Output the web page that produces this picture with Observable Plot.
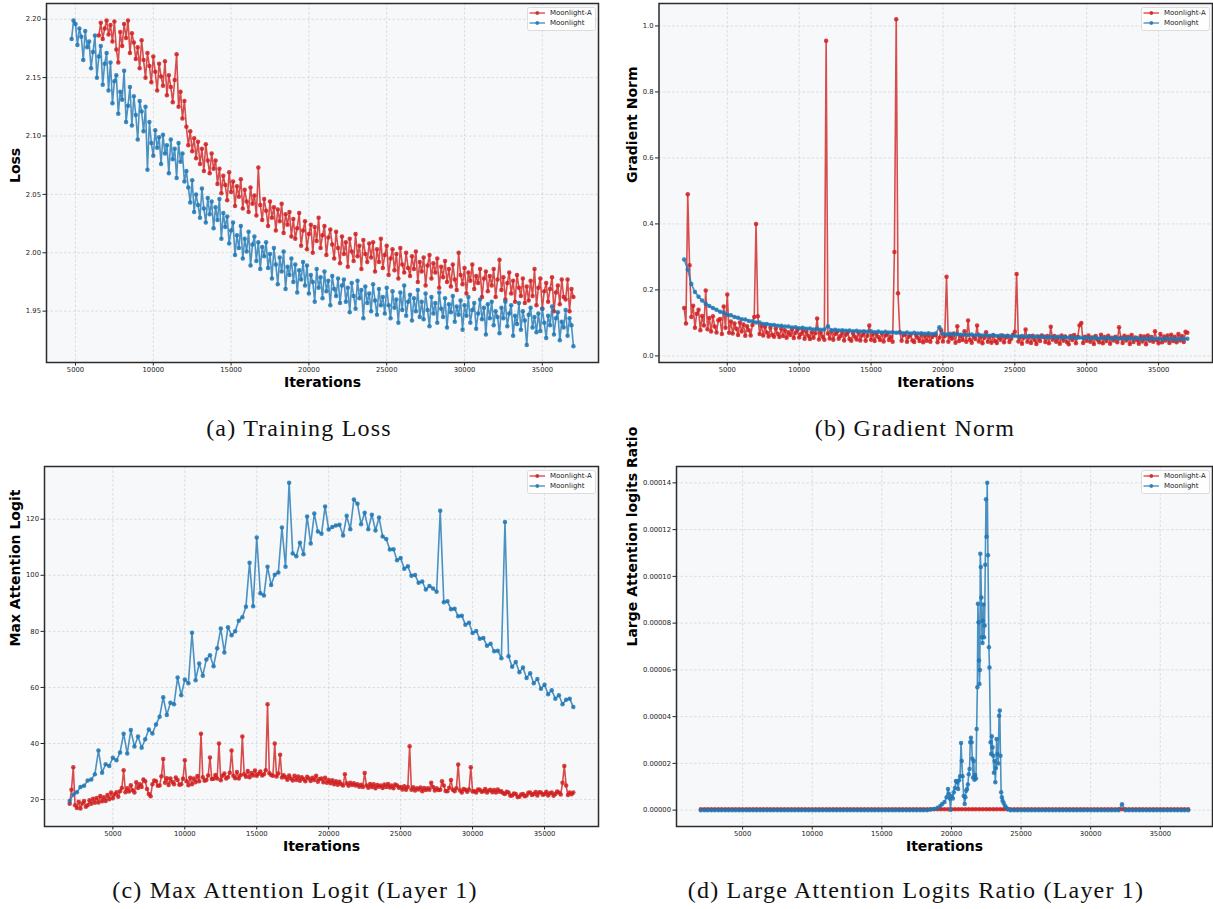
<!DOCTYPE html>
<html><head><meta charset="utf-8">
<script src="https://cdn.jsdelivr.net/npm/d3@7"></script>
<script src="https://cdn.jsdelivr.net/npm/@observablehq/plot@0.6"></script>
<style>
body{margin:0;background:#fff;width:1213px;height:909px;position:relative;overflow:hidden;font-family:"DejaVu Sans",sans-serif;}
.abs{position:absolute;}
.cap{position:absolute;font-family:"Liberation Serif",serif;font-size:24px;letter-spacing:1.2px;color:#111;transform:translate(-50%,-50%);white-space:nowrap;}
</style></head><body>
<script>
// ---------- shared ----------
const seriesNames = ["Moonlight-A", "Moonlight"];
const seriesColors = ["#d02020", "#1f77b4"];
const xTicks = [5000, 10000, 15000, 20000, 25000, 30000, 35000];
const gridStart = 2000;            // panels b, c, d
const lossMoonlightStart = 4750;   // panel a
const lossMoonlightAStart = 6500;  // panel a

// ---------- (a) Training Loss (every 125 iterations) ----------
const lossYTicks = [1.95, 2.00, 2.05, 2.10, 2.15, 2.20];
const lossMoonlight = [
2.183,2.199,2.196,2.178,2.192,2.185,2.165,2.190,2.176,2.181,2.158,2.172,2.186,2.150,2.168,2.177,2.144,2.162,2.171,2.139,
2.163,2.128,2.147,2.152,2.119,2.138,2.131,2.156,2.112,2.126,2.142,2.109,2.134,2.118,2.097,2.130,2.121,2.104,2.125,2.071,
2.112,2.094,2.083,2.105,2.090,2.099,2.076,2.101,2.085,2.092,2.068,2.097,2.080,2.089,2.064,2.094,2.078,2.085,2.061,2.070,
2.056,2.043,2.062,2.035,2.050,2.041,2.030,2.055,2.038,2.026,2.047,2.033,2.044,2.021,2.039,2.028,2.046,2.012,2.034,2.022,
2.031,2.008,2.019,2.026,1.998,2.015,2.004,2.023,1.995,2.012,2.001,2.018,1.989,2.007,2.014,1.993,2.009,1.986,2.005,1.997,
2.009,1.987,1.999,1.978,2.004,1.990,1.973,1.996,1.984,2.001,1.969,1.988,1.981,1.995,1.975,1.990,1.966,1.985,1.977,1.992,
1.972,1.989,1.965,1.981,1.975,1.958,1.986,1.970,1.979,1.961,1.984,1.967,1.976,1.955,1.980,1.969,1.963,1.978,1.957,1.972,
1.977,1.958,1.970,1.949,1.974,1.963,1.952,1.976,1.961,1.968,1.944,1.971,1.957,1.965,1.950,1.973,1.959,1.947,1.969,1.955,
1.962,1.948,1.970,1.955,1.944,1.967,1.953,1.960,1.940,1.966,1.951,1.972,1.946,1.958,1.964,1.942,1.961,1.950,1.968,1.945,
1.958,1.943,1.965,1.951,1.937,1.962,1.948,1.957,1.940,1.966,1.952,1.945,1.961,1.936,1.956,1.949,1.963,1.941,1.954,1.947,
1.959,1.934,1.955,1.946,1.962,1.940,1.951,1.957,1.935,1.948,1.960,1.943,1.953,1.930,1.956,1.944,1.958,1.938,1.950,1.945,
1.931,1.953,1.944,1.958,1.937,1.948,1.955,1.929,1.946,1.939,1.957,1.934,1.950,1.942,1.921,1.947,1.953,1.936,1.945,1.932,
1.948,1.933,1.952,1.940,1.927,1.946,1.938,1.954,1.930,1.944,1.949,1.925,1.941,1.936,1.951,1.929,1.944,1.938,1.920];
const lossMoonlightA = [
2.186,2.197,2.183,2.192,2.199,2.187,2.195,2.181,2.198,2.174,2.163,2.189,2.177,2.196,2.184,2.199,2.171,2.188,2.180,2.166,
2.176,2.158,2.182,2.165,2.150,2.171,2.160,2.146,2.168,2.155,2.139,2.162,2.151,2.143,2.164,2.135,2.152,2.142,2.129,2.148,
2.170,2.125,2.138,2.115,2.130,2.108,2.092,2.104,2.087,2.098,2.081,2.095,2.076,2.089,2.070,2.093,2.079,2.068,2.085,2.072,
2.079,2.059,2.072,2.051,2.066,2.058,2.045,2.069,2.052,2.061,2.040,2.057,2.048,2.063,2.038,2.054,2.044,2.035,2.056,2.042,
2.049,2.032,2.073,2.041,2.028,2.046,2.036,2.023,2.044,2.030,2.039,2.019,2.037,2.027,2.042,2.017,2.033,2.024,2.035,2.014,
2.029,2.012,2.021,2.034,2.006,2.019,2.027,2.003,2.016,2.024,2.000,2.022,2.010,2.030,2.004,2.015,2.023,1.998,2.013,2.020,
2.007,1.995,2.018,2.004,1.991,2.014,1.999,2.009,1.988,2.012,2.001,1.993,2.016,1.997,2.006,1.986,2.011,1.999,1.992,2.008,
1.996,2.009,1.984,2.003,1.992,2.012,1.987,1.998,2.006,1.981,1.995,2.003,1.985,1.999,1.978,2.004,1.990,1.983,2.000,1.987,
1.980,1.997,1.986,2.001,1.975,1.992,1.984,1.996,1.972,1.989,1.998,1.978,1.991,1.983,1.995,1.970,1.988,1.979,1.993,1.975,
1.986,1.971,1.990,1.977,1.968,2.000,1.981,1.973,1.987,1.965,1.983,1.976,1.990,1.969,1.980,1.974,1.986,1.962,1.978,1.984,
1.967,1.980,1.972,1.986,1.962,1.977,1.994,1.968,1.979,1.960,1.974,1.983,1.965,1.976,1.958,1.981,1.970,1.963,1.978,1.957,
1.971,1.959,1.976,1.963,1.986,1.955,1.970,1.978,1.952,1.967,1.974,1.958,1.969,1.979,1.950,1.966,1.972,1.956,1.977,1.962,
1.960,1.977,1.950,1.969,1.962];

// ---------- (b) Gradient Norm ----------
const gradYTicks = [0.0, 0.2, 0.4, 0.6, 0.8, 1.0];
const gradMoonlightA = [ // every 125 iterations
0.145,0.098,0.490,0.275,0.118,0.152,0.085,0.128,0.140,0.078,0.121,0.092,0.198,0.081,0.115,0.074,0.120,0.089,0.071,0.108,
0.112,0.066,0.150,0.085,0.186,0.070,0.104,0.068,0.098,0.082,0.063,0.101,0.074,0.095,0.061,0.090,0.078,0.062,0.094,0.118,
0.400,0.120,0.066,0.091,0.062,0.088,0.071,0.059,0.085,0.064,0.058,0.083,0.067,0.057,0.082,0.060,0.078,0.055,0.072,0.063,
0.080,0.054,0.070,0.079,0.056,0.066,0.076,0.052,0.074,0.061,0.051,0.072,0.055,0.069,0.113,0.050,0.071,0.058,0.049,0.955,
0.068,0.053,0.075,0.049,0.066,0.073,0.052,0.060,0.071,0.047,0.064,0.072,0.051,0.046,0.069,0.058,0.050,0.070,0.047,0.062,
0.070,0.046,0.061,0.092,0.049,0.066,0.045,0.068,0.057,0.048,0.069,0.044,0.062,0.067,0.048,0.058,0.043,0.315,1.020,0.190,
0.072,0.046,0.063,0.066,0.043,0.058,0.065,0.047,0.042,0.064,0.055,0.045,0.065,0.041,0.060,0.046,0.063,0.043,0.057,0.064,
0.063,0.041,0.055,0.078,0.044,0.060,0.240,0.043,0.062,0.052,0.068,0.040,0.090,0.045,0.061,0.048,0.075,0.043,0.107,0.049,
0.040,0.060,0.051,0.092,0.044,0.059,0.038,0.055,0.072,0.043,0.058,0.040,0.062,0.045,0.039,0.058,0.049,0.062,0.041,0.056,
0.060,0.042,0.052,0.064,0.073,0.248,0.044,0.058,0.037,0.055,0.080,0.043,0.059,0.039,0.061,0.048,0.036,0.059,0.045,0.062,
0.057,0.042,0.060,0.038,0.088,0.049,0.060,0.043,0.056,0.037,0.062,0.046,0.059,0.042,0.035,0.060,0.048,0.063,0.038,0.057,
0.093,0.100,0.039,0.058,0.046,0.062,0.043,0.056,0.036,0.060,0.049,0.041,0.064,0.038,0.057,0.045,0.061,0.037,0.055,0.047,
0.058,0.041,0.087,0.055,0.039,0.061,0.047,0.058,0.036,0.063,0.042,0.056,0.048,0.037,0.060,0.044,0.059,0.035,0.062,0.046,
0.057,0.043,0.075,0.048,0.038,0.066,0.041,0.059,0.047,0.062,0.039,0.064,0.045,0.058,0.041,0.066,0.047,0.060,0.042,0.073,
0.070];
const gradMoonlight = [ // every 250 iterations
0.292,0.262,0.218,0.194,0.179,0.168,0.158,0.151,0.145,0.140,
0.134,0.131,0.125,0.123,0.118,0.116,0.111,0.110,0.106,0.105,
0.101,0.101,0.097,0.097,0.094,0.094,0.091,0.091,0.089,0.089,
0.086,0.087,0.084,0.085,0.082,0.083,0.080,0.082,0.079,0.080,
0.090,0.078,0.079,0.077,0.078,0.076,0.077,0.075,0.076,0.074,
0.075,0.073,0.075,0.072,0.074,0.071,0.073,0.071,0.072,0.070,
0.071,0.069,0.071,0.068,0.070,0.068,0.069,0.067,0.069,0.066,
0.068,0.087,0.067,0.065,0.067,0.064,0.066,0.064,0.065,0.063,
0.065,0.062,0.064,0.062,0.063,0.061,0.063,0.060,0.062,0.060,
0.061,0.059,0.061,0.058,0.060,0.058,0.060,0.057,0.059,0.057,
0.059,0.056,0.058,0.056,0.058,0.055,0.057,0.055,0.057,0.054,
0.056,0.054,0.056,0.053,0.056,0.053,0.055,0.053,0.055,0.052,
0.055,0.052,0.054,0.052,0.054,0.051,0.054,0.051,0.053,0.051,
0.053,0.051,0.053,0.050,0.053,0.051,0.052,0.050,0.053,0.051,
0.052];

// ---------- (c) Max Attention Logit ----------
const logitYTicks = [20, 40, 60, 80, 100, 120];
const logitMoonlightA = [ // every 125 iterations
18.5,23.5,31.5,18.0,17.0,19.2,16.8,18.6,19.5,17.4,18.0,19.8,18.5,20.3,18.9,20.6,19.0,21.3,19.4,20.8,
19.5,21.6,20.1,22.5,20.5,21.8,22.6,21.0,23.0,24.1,30.5,22.6,24.0,22.9,25.1,23.3,22.5,26.2,24.1,25.5,
24.5,27.2,26.5,23.8,22.0,21.2,25.5,26.8,26.5,24.9,25.0,28.3,34.5,26.0,27.6,25.2,27.5,26.3,25.5,27.9,
27.0,25.3,25.5,27.4,34.0,26.5,25.1,27.8,25.5,27.5,26.2,28.4,26.5,43.5,28.0,26.7,27.0,28.6,35.0,27.3,
27.4,28.8,27.5,40.0,26.9,28.5,29.3,27.5,28.0,29.6,37.5,28.5,27.6,29.8,27.5,28.7,42.5,29.0,28.1,30.2,
28.0,29.5,28.6,30.4,28.5,29.2,30.0,28.6,29.0,30.5,54.0,29.4,28.8,28.5,40.0,28.2,29.3,36.0,27.9,28.7,
28.0,27.1,28.6,27.5,26.8,28.5,27.0,28.2,26.7,28.0,27.3,26.5,28.1,27.5,26.6,27.8,27.0,28.5,26.4,27.3,
27.5,26.2,27.8,26.0,27.0,25.8,26.9,25.5,26.5,25.3,26.4,25.5,25.0,29.0,25.8,24.9,26.0,25.2,25.8,25.0,
25.5,24.6,25.3,24.5,29.5,25.0,24.2,25.6,24.5,25.5,24.0,25.2,24.6,25.0,24.1,25.4,24.5,25.6,24.3,25.0,
24.0,25.4,25.0,24.2,24.5,23.6,24.8,23.5,24.5,39.0,23.5,24.4,23.2,24.0,23.6,24.3,23.0,24.1,23.4,24.0,
23.5,26.0,24.5,23.2,24.0,23.4,23.5,26.5,25.0,23.1,23.0,24.2,27.0,23.5,23.0,24.0,32.5,23.2,22.5,23.8,
23.5,22.8,23.6,31.5,22.9,23.0,22.5,23.6,23.5,22.8,23.0,23.8,22.5,23.2,23.5,22.6,23.4,22.5,23.6,22.8,
23.0,22.3,22.0,22.8,22.5,21.4,21.5,22.2,22.0,20.9,21.0,21.8,22.0,21.2,21.5,22.4,22.5,21.6,22.0,22.7,
21.5,22.6,22.5,21.7,22.0,22.8,21.5,22.3,22.5,21.4,22.0,22.9,22.5,21.8,26.0,32.0,25.0,21.6,22.5,21.9,
22.5];
const logitMoonlight = [ // every 250 iterations
19.5,21.8,22.6,24.5,24.9,26.8,27.2,29.0,37.5,29.6,
32.6,32.0,34.9,34.0,36.8,43.5,36.4,44.8,38.9,42.5,
38.5,41.5,45.0,43.6,46.8,49.5,56.5,50.2,54.5,54.0,
63.5,57.2,62.8,61.5,79.5,62.6,68.5,64.2,70.0,71.5,
67.6,74.0,81.0,72.5,81.5,78.6,80.0,83.8,85.0,88.8,
104.5,89.0,113.5,93.6,92.8,103.0,96.5,100.2,101.0,117.0,
103.0,133.0,107.8,106.8,111.6,107.5,121.0,111.3,122.0,115.6,
114.8,124.5,116.3,117.2,117.8,118.0,114.2,121.2,116.4,127.0,
125.5,118.2,122.3,116.4,121.6,116.0,120.6,113.8,112.9,109.2,
109.3,105.4,106.2,102.3,103.2,99.8,100.1,97.3,97.8,94.9,
96.2,95.3,94.1,123.0,90.4,90.7,87.9,88.1,85.4,85.6,
82.4,83.1,79.4,80.1,77.4,77.6,74.9,75.6,72.9,73.1,
70.4,119.0,71.1,67.4,69.1,65.4,67.1,63.4,65.1,61.5,
63.0,59.5,61.0,57.6,59.0,56.0,57.2,54.0,55.6,56.0,
53.0];

// ---------- (d) Large Attention Logits Ratio ----------
const ratioYTicks = [0, 0.00002, 0.00004, 0.00006, 0.00008, 0.00010, 0.00012, 0.00014];
const ratioMoonlightA = [ // every 250 iterations
0,0,0,0,0,0,0,0,0,0, 0,0,0,0,0,0,0,0,0,0, 0,0,0,0,0,0,0,0,0,0,
0,0,0,0,0,0,0,0,0,0, 0,0,0,0,0,0,0,0,0,0, 0,0,0,0,0,0,0,0,0,0,
0,0,0,0,0,0,0,0,0,0, 0,0,0,0,0,0,0,0,0,0, 0,0,0,0,0,0,0,0,0,0,
0,0,0,0,0,0,0,0,0,0, 0,0,0,0,0,0,0,0,0,0, 0,0,0,0,0,0,0,0,0,0,
0,0,0,0,0,0,0,0,0,0, 0,0,0,0,0,0,0,0,0,0, 0];
const ratioMoonlightBefore = [ // 2000..18250, every 250
0,0,0,0,0,0,0,0,0,0, 0,0,0,0,0,0,0,0,0,0, 0,0,0,0,0,0,0,0,0,0,
0,0,0,0,0,0,0,0,0,0, 0,0,0,0,0,0,0,0,0,0, 0,0,0,0,0,0,0,0,0,0,
0,0,0,0,0,0];
const ratioBurstIters = [
18500,18750,19000,19200,19330,19500,19650,19750,19810,19870,
19930,20000,20100,20170,20250,20320,20400,20480,20550,20620,
20690,20740,20800,20880,20950,21000,21060,21120,21180,21240,
21300,21350,21400,21450,21500,21550,21600,21650,21700,21760,
21810,21860,21900,21940,21980,22010,22040,22070,22110,22150,
22190,22230,22260,22300,22340,22380,22430,22480,22520,22570,
22620,22690,22730,22810,22850,22900,22950,23000,23050,23100,
23150,23200,23240,23300,23350,23420,23470,23520,23570,23620,
23670,23750,23840,23950,24070,24250];
const ratioBurstValues = [
3e-7,5e-7,1.0e-6,1.8e-6,2.6e-6,3.5e-6,5.5e-6,9.0e-6,7.0e-6,5.0e-6,
2e-7,6.0e-6,5.0e-6,7.6e-6,9.5e-6,12.5e-6,12.0e-6,9.0e-6,12.8e-6,14.5e-6,
28.7e-6,21.0e-6,14.5e-6,6.0e-6,2.6e-6,5.5e-6,8.3e-6,9.0e-6,11.0e-6,15.4e-6,
17.6e-6,29.0e-6,31.0e-6,29.0e-6,22.0e-6,14.0e-6,21.0e-6,13.0e-6,15.0e-6,13.5e-6,
34.7e-6,52.6e-6,88.3e-6,80.4e-6,64.0e-6,54.0e-6,60.0e-6,109.7e-6,104.0e-6,91.0e-6,
74.0e-6,71.5e-6,81.0e-6,88.0e-6,74.0e-6,79.0e-6,105.0e-6,133.0e-6,116.9e-6,140.0e-6,
109.0e-6,69.7e-6,61.0e-6,29.0e-6,24.0e-6,31.6e-6,26.9e-6,23.3e-6,16.0e-6,21.0e-6,
11.9e-6,18.0e-6,30.4e-6,24.0e-6,20.0e-6,40.4e-6,42.6e-6,23.3e-6,7.6e-6,5.5e-6,
4.0e-6,3.0e-6,1.9e-6,1.0e-6,4e-7,0];
const ratioMoonlightAfter = [ // 24500..37000, every 250
0,0,0,0,0,0,0,0,0,0, 0,0,0,0,0,0,0,0,0,0, 0,0,0,0,0,0,0,0,0,0,
0,2.5e-6,0,0,0,0,0,0,0,0, 0,0,0,0,0,0,0,0,0,0, 0];

// ---------- helpers ----------
const onGrid = (start, step, values) => values.map((v, i) => ({x: start + i * step, y: v}));
const ratioMoonlightPts = [
  ...onGrid(gridStart, 250, ratioMoonlightBefore),
  ...ratioBurstIters.map((x, i) => ({x, y: ratioBurstValues[i]})),
  ...onGrid(24500, 250, ratioMoonlightAfter)
];

function addLegend(left, top) {
  const w = 68, h = 23;
  const svg = d3.select(document.body).append("svg").attr("class", "abs")
    .style("left", left + "px").style("top", top + "px").attr("width", w + 2).attr("height", h + 2);
  svg.append("rect").attr("x", 0.5).attr("y", 0.5).attr("width", w).attr("height", h).attr("rx", 2)
    .attr("fill", "#fff").attr("fill-opacity", 0.85).attr("stroke", "#d4d4d4").attr("stroke-width", 0.8);
  seriesNames.forEach((name, i) => {
    const cy = 6 + i * 10;
    svg.append("line").attr("x1", 2.5).attr("x2", 18).attr("y1", cy).attr("y2", cy)
      .attr("stroke", seriesColors[i]).attr("stroke-width", 1.4).attr("stroke-opacity", 0.8);
    svg.append("circle").attr("cx", 10.3).attr("cy", cy).attr("r", 1.9).attr("fill", seriesColors[i]).attr("fill-opacity", 0.85);
    svg.append("text").attr("x", 23).attr("y", cy).attr("dy", "0.35em").attr("font-size", 7)
      .attr("font-family", "DejaVu Sans").attr("fill", "#222").text(name);
  });
}

function addCaption(text, cx, cy) {
  const d = document.createElement("div");
  d.className = "cap"; d.style.left = cx + "px"; d.style.top = cy + "px"; d.textContent = text;
  document.body.appendChild(d);
}

function panel(cfg) {
  const gridStyle = {stroke: "#c4c4c4", strokeOpacity: 0.75, strokeDasharray: "2.5,2", strokeWidth: 0.7};
  const marks = [
    Plot.frame({fill: "#f7f8fa", stroke: "none"}),
    Plot.gridX(xTicks, gridStyle),
    Plot.gridY(cfg.yTicks, gridStyle),
    Plot.axisX(xTicks, {tickFormat: d => String(d), fontSize: 6.8, tickSize: 3.5, tickPadding: 1.5, label: null}),
    Plot.axisY(cfg.yTicks, {tickFormat: cfg.yFormat, fontSize: 6.8, tickSize: 3.5, tickPadding: 2, label: null})
  ];
  cfg.series.forEach((pts, i) => {
    const dy = cfg.dys ? cfg.dys[i] : 0;
    marks.push(Plot.line(pts, {x: "x", y: "y", stroke: seriesColors[i], strokeWidth: 1.6, strokeOpacity: 0.8, dy}));
    marks.push(Plot.dot(pts, {x: "x", y: "y", r: 2.25, fill: seriesColors[i], fillOpacity: 0.85, stroke: "none", dy}));
  });
  marks.push(Plot.frame({stroke: "#2b2b2b", strokeWidth: 1.5}));
  marks.push(Plot.text(["Iterations"], {text: d => d, frameAnchor: "bottom", lineAnchor: "middle", dy: 20, fontSize: 14, fontWeight: "bold", fill: "#000"}));
  marks.push(Plot.text([cfg.yLabel], {text: d => d, frameAnchor: "left", lineAnchor: "middle", dx: cfg.yLabelDx, rotate: -90, fontSize: 14, fontWeight: "bold", fill: "#000"}));
  const svg = Plot.plot({
    width: cfg.width, height: cfg.height,
    marginLeft: cfg.ml, marginRight: cfg.mr, marginTop: cfg.mt, marginBottom: cfg.mb,
    x: {domain: cfg.xDomain},
    y: {domain: cfg.yDomain},
    style: {fontFamily: "DejaVu Sans", color: "#222", background: "transparent", overflow: "visible"},
    marks
  });
  svg.classList.add("abs");
  svg.style.left = cfg.left + "px";
  svg.style.top = cfg.top + "px";
  document.body.appendChild(svg);
}

// (a)
panel({left: 0, top: 0, width: 606, height: 400, ml: 46, mr: 8, mt: 3, mb: 38,
  xDomain: [3137, 38612], yDomain: [1.906, 2.2135], yTicks: lossYTicks, yFormat: d3.format(".2f"),
  series: [onGrid(lossMoonlightAStart, 125, lossMoonlightA), onGrid(lossMoonlightStart, 125, lossMoonlight)],
  yLabel: "Loss", yLabelDx: -31});
// (b)
panel({left: 606, top: 0, width: 607, height: 400, ml: 52.5, mr: 1, mt: 3, mb: 38,
  xDomain: [250, 38750], yDomain: [-0.02, 1.068], yTicks: gradYTicks, yFormat: d3.format(".1f"),
  series: [onGrid(gridStart, 125, gradMoonlightA), onGrid(gridStart, 250, gradMoonlight)],
  yLabel: "Gradient Norm", yLabelDx: -26});
// (c)
panel({left: 0, top: 460, width: 606, height: 400, ml: 44, mr: 8, mt: 6, mb: 34,
  xDomain: [250, 38750], yDomain: [10.4, 138.8], yTicks: logitYTicks, yFormat: d3.format("d"),
  series: [onGrid(gridStart, 125, logitMoonlightA), onGrid(gridStart, 250, logitMoonlight)],
  yLabel: "Max Attention Logit", yLabelDx: -29});
// (d)
panel({left: 606, top: 460, width: 607, height: 400, ml: 70, mr: 1, mt: 6, mb: 34,
  xDomain: [250, 38750], yDomain: [-0.000007, 0.000147], yTicks: ratioYTicks, yFormat: d3.format(".5f"),
  series: [onGrid(gridStart, 250, ratioMoonlightA), ratioMoonlightPts], dys: [-1, 0],
  yLabel: "Large Attention logits Ratio", yLabelDx: -44});

addLegend(527, 7);
addLegend(1141, 7);
addLegend(527, 470);
addLegend(1141, 470);

addCaption("(a) Training Loss", 299, 428);
addCaption("(b) Gradient Norm", 915, 428);
addCaption("(c) Max Attention Logit (Layer 1)", 295, 890);
addCaption("(d) Large Attention Logits Ratio (Layer 1)", 916, 890);
</script>
</body></html>
